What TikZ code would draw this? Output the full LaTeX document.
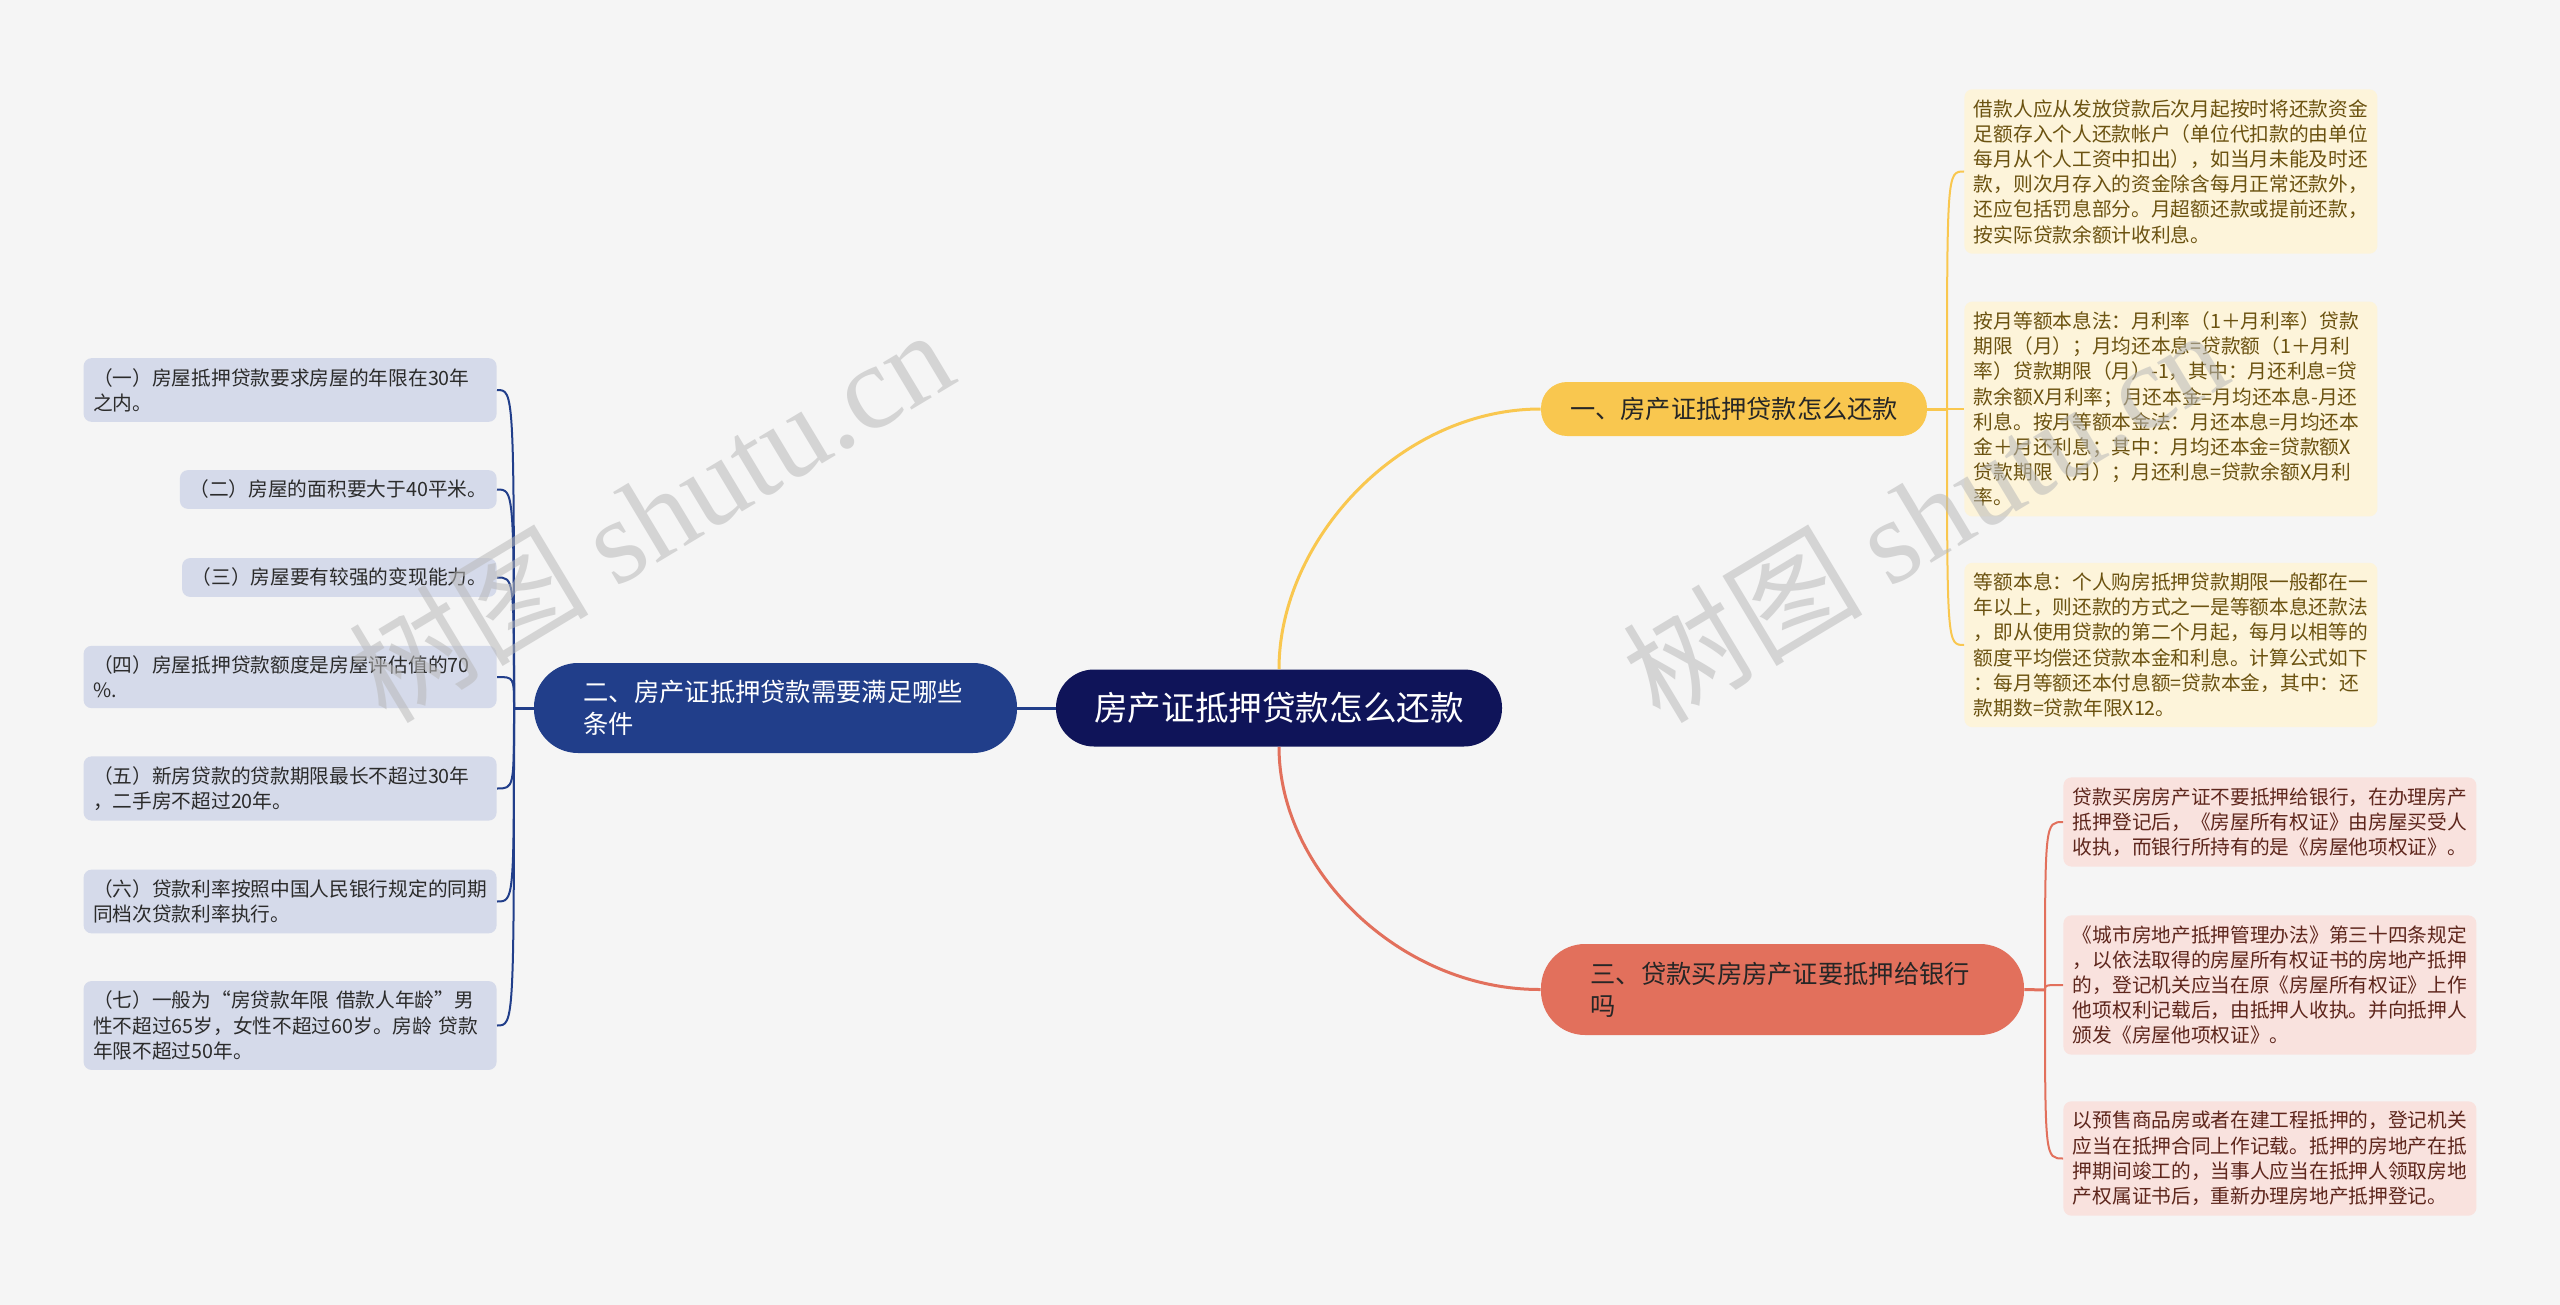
\documentclass[tikz,border=0pt]{standalone}
\usepackage{fontspec}
\setmainfont{Noto Sans CJK SC}
\newfontfamily\wmlatin{Liberation Serif}
\usetikzlibrary{positioning,calc}
\definecolor{bgc}{HTML}{F5F5F5}
\definecolor{rootc}{HTML}{0F1459}
\definecolor{navyc}{HTML}{213E8A}
\definecolor{navyleaf}{HTML}{D5DAEA}
\definecolor{yelc}{HTML}{F9C74F}
\definecolor{yelleaf}{HTML}{FDF4DA}
\definecolor{yeltext}{HTML}{6B5210}
\definecolor{redc}{HTML}{E2705C}
\definecolor{redleaf}{HTML}{F9E2DE}
\definecolor{redtext}{HTML}{5E261C}
\definecolor{leaftext}{HTML}{2B2B2B}
\tikzset{
  rootbox/.style={fill=rootc, text=white, rounded corners=19pt, minimum width=223pt, minimum height=38.5pt, font=\fontsize{16.8}{20}\selectfont},
  branchbox/.style={rounded corners=22pt, minimum height=45pt, text width=192pt, inner xsep=24.75pt, align=left, font=\fontsize{12.65}{16}\selectfont},
  yelbranch/.style={fill=yelc, text=black!85, rounded corners=13pt, minimum width=193pt, minimum height=27pt, font=\fontsize{12.6}{15}\selectfont},
  leafbox/.style={rounded corners=4pt, inner xsep=4.75pt, inner ysep=5pt, align=left, font=\fontsize{9.85}{12.6}\selectfont},
  navyleafbox/.style={leafbox, fill=navyleaf, text=leaftext, anchor=east},
  yelleafbox/.style={leafbox, fill=yelleaf, text=yeltext, text width=197pt, anchor=west},
  redleafbox/.style={leafbox, fill=redleaf, text=redtext, text width=197pt, anchor=west},
  mainline/.style={line width=1.5pt},
  leafline/.style={line width=1pt},
  wmark/.style={text=gray!55, opacity=0.55, font=\fontsize{60}{60}\selectfont, rotate=31},
}

\begin{document}
\begin{tikzpicture}[x=0.5pt, y=-0.5pt]
  \useasboundingbox (0,0) rectangle (2560,1305);
  \fill[bgc] (0,0) rectangle (2560,1305);

  % centre and main branches
  \node[rootbox] (root) at (1279,708) {房产证抵押贷款怎么还款};
  \node[branchbox, fill=navyc, text=white] (n2) at (775.5,708) {二、房产证抵押贷款需要满足哪些\\条件};
  \node[yelbranch] (n1) at (1734,409) {一、房产证抵押贷款怎么还款};
  \node[branchbox, fill=redc, text=black!85, minimum height=45.5pt] (n3) at (1782.5,989.5) {三、贷款买房房产证要抵押给银行\\吗};

  \draw[mainline, navyc] (root.west) -- (n2.east);
  \draw[mainline, yelc] (root.north) .. controls (1279,540) and (1400,409) .. (n1.west);
  \draw[mainline, redc] (root.south) .. controls (1279,870) and (1400,990) .. (n3.west);

  % branch one
  \node[yelleafbox] (r1a) at (1964,171.5) {借款人应从发放贷款后次月起按时将还款资金\\足额存入个人还款帐户（单位代扣款的由单位\\每月从个人工资中扣出），如当月未能及时还\\款，则次月存入的资金除含每月正常还款外，\\还应包括罚息部分。月超额还款或提前还款，\\按实际贷款余额计收利息。};
  \node[yelleafbox] (r1b) at (1964,409) {按月等额本息法：月利率（1＋月利率）贷款\\期限（月）；月均还本息=贷款额（1＋月利\\率）贷款期限（月）-1，其中：月还利息=贷\\款余额X月利率；月还本金=月均还本息-月还\\利息。按月等额本金法：月还本息=月均还本\\金＋月还利息；其中：月均还本金=贷款额X\\贷款期限（月）；月还利息=贷款余额X月利\\率。};
  \node[yelleafbox] (r1c) at (1964,645) {等额本息：个人购房抵押贷款期限一般都在一\\年以上，则还款的方式之一是等额本息还款法\\，即从使用贷款的第二个月起，每月以相等的\\额度平均偿还贷款本金和利息。计算公式如下\\：每月等额还本付息额=贷款本金，其中：还\\款期数=贷款年限X12。};
  \draw[mainline, yelc] (n1.east) -- (1947,409) coordinate (j1);
  \foreach \n in {r1a,r1b,r1c}
    \draw[leafline, yelc] (j1) .. controls (j1 |- \n.west) .. (\n.west);

  % branch two
  \node[navyleafbox, text width=197pt] (l1) at (497,390) {（一）房屋抵押贷款要求房屋的年限在30年\\之内。};
  \node[navyleafbox] (l2) at (497,489.5) {（二）房屋的面积要大于40平米。};
  \node[navyleafbox] (l3) at (497,577.5) {（三）房屋要有较强的变现能力。};
  \node[navyleafbox, text width=197pt] (l4) at (497,677) {（四）房屋抵押贷款额度是房屋评估值的70\\\%.};
  \node[navyleafbox, text width=197pt] (l5) at (497,788.5) {（五）新房贷款的贷款期限最长不超过30年\\，二手房不超过20年。};
  \node[navyleafbox, text width=197pt] (l6) at (497,901.5) {（六）贷款利率按照中国人民银行规定的同期\\同档次贷款利率执行。};
  \node[navyleafbox, text width=197pt] (l7) at (497,1025.5) {（七）一般为“房贷款年限 借款人年龄”男\\性不超过65岁，女性不超过60岁。房龄 贷款\\年限不超过50年。};
  \draw[mainline, navyc] (n2.west) -- (514,708) coordinate (j2);
  \foreach \n in {l1,l2,l3,l4,l5,l6,l7}
    \draw[leafline, navyc] (j2) .. controls (j2 |- \n.east) .. (\n.east);

  % branch three
  \node[redleafbox] (r3a) at (2063,822) {贷款买房房产证不要抵押给银行，在办理房产\\抵押登记后，《房屋所有权证》由房屋买受人\\收执，而银行所持有的是《房屋他项权证》。};
  \node[redleafbox] (r3b) at (2063,985) {《城市房地产抵押管理办法》第三十四条规定\\，以依法取得的房屋所有权证书的房地产抵押\\的，登记机关应当在原《房屋所有权证》上作\\他项权利记载后，由抵押人收执。并向抵押人\\颁发《房屋他项权证》。};
  \node[redleafbox] (r3c) at (2063,1158.5) {以预售商品房或者在建工程抵押的，登记机关\\应当在抵押合同上作记载。抵押的房地产在抵\\押期间竣工的，当事人应当在抵押人领取房地\\产权属证书后，重新办理房地产抵押登记。};
  \draw[mainline, redc] (n3.east) -- (2045,990) coordinate (j3);
  \foreach \n in {r3a,r3b,r3c}
    \draw[leafline, redc] (j3) .. controls (j3 |- \n.west) .. (\n.west);

  % watermark
  \node[wmark] (wm1) at (650,514) {树图 {\wmlatin shutu.cn}};
  \node[wmark] (wm2) at (1924,514) {树图 {\wmlatin shutu.cn}};
\end{tikzpicture}
\end{document}
